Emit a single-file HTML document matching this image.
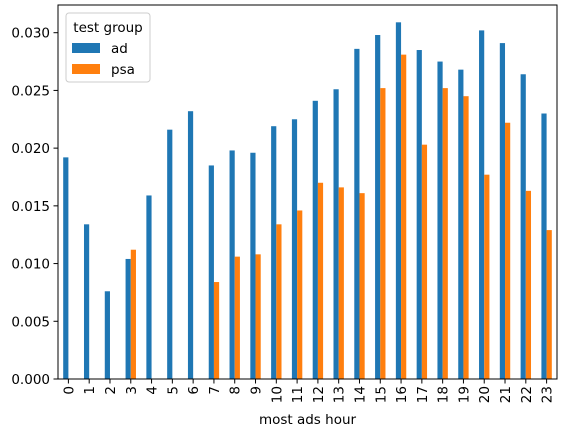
<!DOCTYPE html>
<html><head><meta charset="utf-8"><style>
body{margin:0;background:#fff;font-family:"Liberation Sans","DejaVu Sans",sans-serif}
</style></head><body>
<svg id="chart" width="565" height="436" xmlns="http://www.w3.org/2000/svg" font-family="DejaVu Sans, Liberation Sans, sans-serif"></svg>
<script>
const categories=["0","1","2","3","4","5","6","7","8","9","10","11","12","13","14","15","16","17","18","19","20","21","22","23"];
const adValues=[0.0192,0.0134,0.0076,0.0104,0.0159,0.0216,0.0232,0.0185,0.0198,0.0196,0.0219,0.0225,0.0241,0.0251,0.0286,0.0298,0.0309,0.0285,0.0275,0.0268,0.0302,0.0291,0.0264,0.0230];
const psaValues=[0,0,0,0.0112,0,0,0,0.0084,0.0106,0.0108,0.0134,0.0146,0.0170,0.0166,0.0161,0.0252,0.0281,0.0203,0.0252,0.0245,0.0177,0.0222,0.0163,0.0129];
const yTicks=[0,0.005,0.010,0.015,0.020,0.025,0.030];
const yTickLabels=["0.000","0.005","0.010","0.015","0.020","0.025","0.030"];

const svg=document.getElementById('chart');
const NS="http://www.w3.org/2000/svg";
const L=58,R=557,T=5,B=379;
const FS=13.5;
const yMax=0.0324;
const y=v=>B-(v/yMax)*(B-T);
const band=(R-L)/categories.length;
const xc=i=>L+band*(i+0.5);
function mk(tag,attrs,parent){const e=document.createElementNS(NS,tag);for(const k in attrs)e.setAttribute(k,attrs[k]);(parent||svg).appendChild(e);return e;}

const bars=mk('g',{});


const bw=band*0.25;
categories.forEach((c,i)=>{
  const a=mk('rect',{x:xc(i)-bw,y:y(adValues[i]),width:bw,height:B-y(adValues[i]),fill:'#1f77b4'},bars);
  
  
  const p=mk('rect',{x:xc(i),y:y(psaValues[i]),width:bw,height:B-y(psaValues[i]),fill:'#ff7f0e'},bars);
  
  
});

const frame=mk('rect',{x:L,y:T,width:R-L,height:B-T,fill:'none',stroke:'#000','stroke-width':1});



const ya=mk('g',{});


yTicks.forEach((t,i)=>{
  mk('line',{x1:L-4.5,x2:L,y1:y(t),y2:y(t),stroke:'#000','stroke-width':1},ya);
  const tx=mk('text',{x:L-8,y:y(t)+5,'font-size':FS,'text-anchor':'end',fill:'#000'},ya);
  tx.textContent=yTickLabels[i];
  
  
});

const xa=mk('g',{});


categories.forEach((c,i)=>{
  mk('line',{x1:xc(i),x2:xc(i),y1:B,y2:B+4.5,stroke:'#000','stroke-width':1},xa);
  const tx=mk('text',{x:0,y:0,'font-size':FS,'text-anchor':'end',fill:'#000',transform:`translate(${xc(i)+5},${B+7}) rotate(-90)`},xa);
  tx.textContent=c;
  
  
});
const xl=mk('text',{x:(L+R)/2,y:424,'font-size':FS,'text-anchor':'middle',fill:'#000'});
xl.textContent='most ads hour';



const lg=mk('g',{});


mk('rect',{x:66,y:13,width:84,height:69,rx:3,fill:'#fff','fill-opacity':0.8,stroke:'#ccc','stroke-width':1},lg);
const lt=mk('text',{x:108,y:32,'font-size':FS,'text-anchor':'middle',fill:'#000'},lg);
lt.textContent='test group';


[['ad','#1f77b4',43],['psa','#ff7f0e',64]].forEach(([n,col,yy])=>{
  mk('rect',{x:72,y:yy,width:28,height:10,fill:col},lg);
  const t=mk('text',{x:111,y:yy+10,'font-size':FS,fill:'#000'},lg);
  t.textContent=n;
  
  
});
</script>
</body></html>
